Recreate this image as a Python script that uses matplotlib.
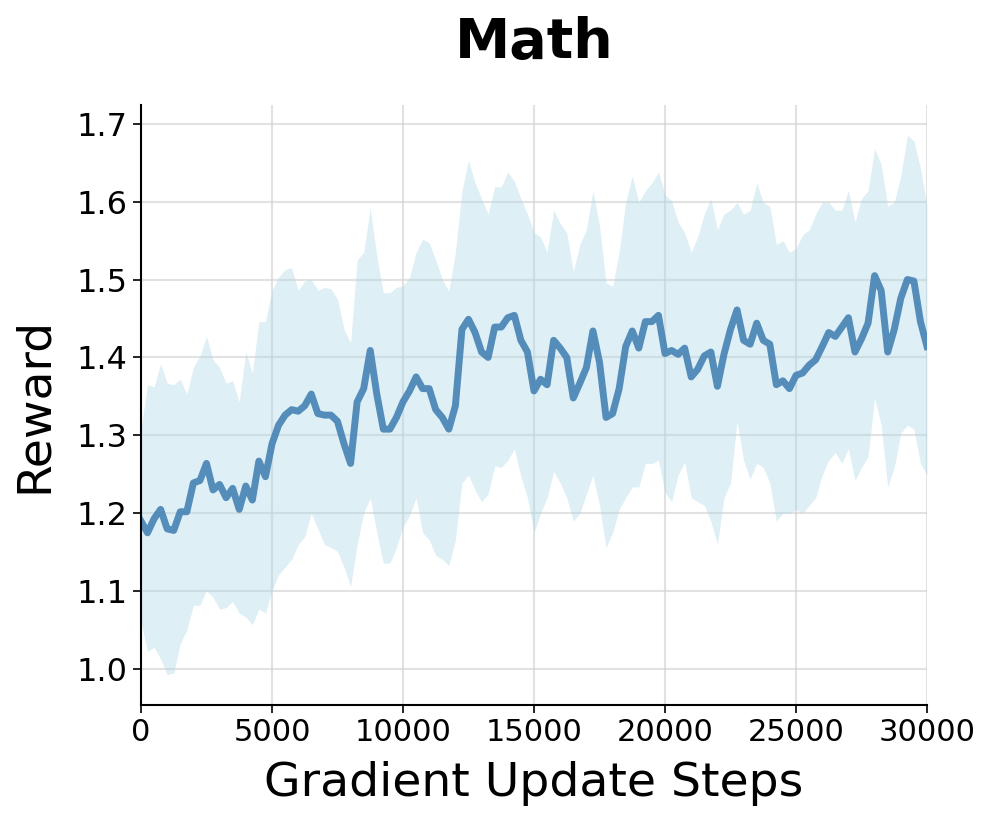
import matplotlib
matplotlib.use("Agg")
import matplotlib.pyplot as plt
import numpy as np

# steps every 250 gradient updates
steps = np.arange(0, 30001, 250)

reward_mean = [
    1.190, 1.175, 1.193, 1.205, 1.180, 1.178, 1.202, 1.202, 1.239, 1.242,
    1.264, 1.230, 1.237, 1.220, 1.232, 1.205, 1.235, 1.217, 1.267, 1.247,
    1.289, 1.313, 1.326, 1.333, 1.331, 1.338, 1.353, 1.328, 1.326, 1.326,
    1.318, 1.289, 1.264, 1.343, 1.360, 1.409, 1.353, 1.308, 1.308, 1.323,
    1.343, 1.357, 1.375, 1.360, 1.360, 1.333, 1.323, 1.308, 1.338, 1.436,
    1.449, 1.432, 1.407, 1.400, 1.439, 1.439, 1.451, 1.454, 1.422, 1.407,
    1.357, 1.372, 1.365, 1.422, 1.412, 1.400, 1.348, 1.367, 1.387, 1.434,
    1.394, 1.323, 1.328, 1.360, 1.414, 1.434, 1.412, 1.446, 1.446, 1.454,
    1.405, 1.409, 1.404, 1.412, 1.375, 1.385, 1.402, 1.407, 1.363, 1.404,
    1.436, 1.461, 1.422, 1.417, 1.444, 1.422, 1.417, 1.365, 1.370, 1.360,
    1.377, 1.380, 1.390, 1.397, 1.414, 1.432, 1.427, 1.439, 1.451, 1.407,
    1.424, 1.444, 1.505, 1.486, 1.407, 1.436, 1.476, 1.500, 1.498, 1.446,
    1.414,
]

reward_upper = [
    1.308, 1.365, 1.362, 1.392, 1.367, 1.365, 1.372, 1.353, 1.387, 1.402,
    1.427, 1.397, 1.387, 1.367, 1.370, 1.343, 1.407, 1.380, 1.446, 1.446,
    1.486, 1.503, 1.513, 1.515, 1.486, 1.498, 1.500, 1.486, 1.490, 1.488,
    1.475, 1.436, 1.419, 1.525, 1.535, 1.592, 1.530, 1.483, 1.483, 1.490,
    1.492, 1.503, 1.535, 1.552, 1.547, 1.525, 1.500, 1.485, 1.535, 1.614,
    1.653, 1.624, 1.604, 1.584, 1.619, 1.619, 1.638, 1.626, 1.604, 1.584,
    1.560, 1.555, 1.535, 1.589, 1.572, 1.560, 1.510, 1.545, 1.564, 1.614,
    1.569, 1.496, 1.491, 1.535, 1.599, 1.633, 1.599, 1.614, 1.624, 1.638,
    1.609, 1.601, 1.574, 1.560, 1.535, 1.555, 1.584, 1.604, 1.564, 1.584,
    1.589, 1.599, 1.584, 1.589, 1.624, 1.599, 1.594, 1.545, 1.550, 1.535,
    1.540, 1.557, 1.564, 1.584, 1.599, 1.599, 1.589, 1.589, 1.614, 1.574,
    1.604, 1.614, 1.668, 1.648, 1.594, 1.599, 1.633, 1.685, 1.678, 1.643,
    1.594,
]

reward_lower = [
    1.060, 1.023, 1.028, 1.013, 0.993, 0.995, 1.033, 1.050, 1.082, 1.082,
    1.101, 1.092, 1.077, 1.079, 1.087, 1.072, 1.067, 1.057, 1.077, 1.072,
    1.101, 1.121, 1.131, 1.141, 1.160, 1.170, 1.200, 1.180, 1.160, 1.156,
    1.151, 1.131, 1.106, 1.160, 1.200, 1.220, 1.175, 1.136, 1.136, 1.156,
    1.183, 1.197, 1.220, 1.175, 1.166, 1.146, 1.141, 1.133, 1.166, 1.239,
    1.249, 1.230, 1.215, 1.225, 1.261, 1.259, 1.268, 1.283, 1.247, 1.220,
    1.175, 1.200, 1.220, 1.254, 1.239, 1.220, 1.190, 1.200, 1.225, 1.249,
    1.210, 1.156, 1.175, 1.205, 1.220, 1.234, 1.234, 1.264, 1.264, 1.268,
    1.227, 1.215, 1.249, 1.266, 1.220, 1.215, 1.210, 1.190, 1.160, 1.220,
    1.239, 1.318, 1.268, 1.244, 1.264, 1.259, 1.239, 1.190, 1.200, 1.200,
    1.205, 1.200, 1.210, 1.220, 1.249, 1.268, 1.278, 1.264, 1.283, 1.242,
    1.259, 1.273, 1.348, 1.313, 1.234, 1.259, 1.303, 1.313, 1.308, 1.264,
    1.249,
]

x_ticks = [0, 5000, 10000, 15000, 20000, 25000, 30000]
y_ticks = [1.0, 1.1, 1.2, 1.3, 1.4, 1.5, 1.6, 1.7]

fig = plt.figure(figsize=(9.97, 8.26), dpi=100)
ax = fig.add_axes([0.1414, 0.1465, 0.7884, 0.7264])

ax.fill_between(steps, reward_lower, reward_upper, color="lightblue",
                alpha=0.4, linewidth=0)
ax.plot(steps, reward_mean, color="steelblue", alpha=0.9, linewidth=5)

ax.set_xlim(0, 30000)
ax.set_ylim(0.954, 1.724)
ax.set_xticks(x_ticks)
ax.set_yticks(y_ticks)
ax.set_yticklabels(["%.1f" % v for v in y_ticks])
ax.tick_params(labelsize=22, length=6, width=1.2)
ax.tick_params(axis="y", labelsize=23)
ax.grid(True, color="#d0d0d0", alpha=0.6, linewidth=1.5)
ax.set_axisbelow(True)

for side in ["top", "right"]:
    ax.spines[side].set_visible(False)
for side in ["left", "bottom"]:
    ax.spines[side].set_linewidth(1.5)

ax.set_xlabel("Gradient Update Steps", fontsize=34, labelpad=10)
ax.set_ylabel("Reward", fontsize=34, labelpad=14)
ax.set_title("Math", fontsize=40, fontweight="bold", pad=34)

fig.savefig("out.png", dpi=100)
